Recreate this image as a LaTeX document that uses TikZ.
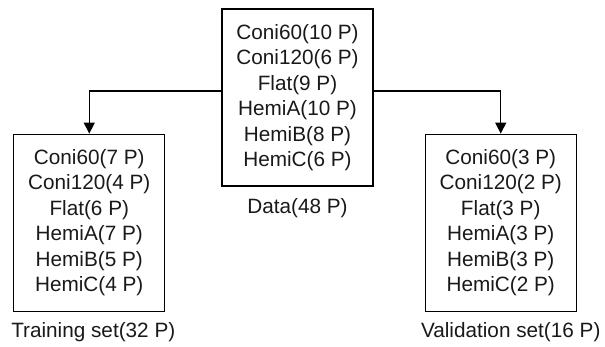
\documentclass[tikz,border=0pt]{standalone}
\usepackage{fontspec}
\setmainfont{Liberation Sans}
\usepackage{tikz}
\usetikzlibrary{arrows.meta,positioning}

\begin{document}
\begin{tikzpicture}[node distance=1cm,>={Triangle[width=0.22cm,length=0.22cm]},line width=0.7pt]
\tikzstyle{box}=[draw, align=center, minimum width=3.02cm, minimum height=3.54cm, inner sep=0pt, text=black!90, font=\fontsize{11.8}{14.5}\selectfont]
\tikzstyle{caption}=[inner sep=0pt, text=black!90, font=\fontsize{11.8}{14.5}\selectfont]
\useasboundingbox (0,0) rectangle (12.1,-6.94);
\node[box] (data) at (5.95,-1.95) {Coni60(10 P)\\Coni120(6 P)\\Flat(9 P)\\HemiA(10 P)\\HemiB(8 P)\\HemiC(6 P)};
\node[box, below left=-1.06cm and 1.12cm of data] (train) {Coni60(7 P)\\Coni120(4 P)\\Flat(6 P)\\HemiA(7 P)\\HemiB(5 P)\\HemiC(4 P)};
\node[box, below right=-1.06cm and 1.02cm of data] (valid) {Coni60(3 P)\\Coni120(2 P)\\Flat(3 P)\\HemiA(3 P)\\HemiB(3 P)\\HemiC(2 P)};
\node[caption, below=0.22cm of data] (datalabel) {Data(48 P)};
\node[caption, below=0.2cm of train, xshift=0.08cm] (trainlabel) {Training set(32 P)};
\node[caption, below=0.2cm of valid, xshift=0.2cm] (validlabel) {Validation set(16 P)};
\draw[->] ([yshift=0.13cm]data.west) -| (train.north);
\draw[->] ([yshift=0.13cm]data.east) -| (valid.north);
\end{tikzpicture}
\end{document}
